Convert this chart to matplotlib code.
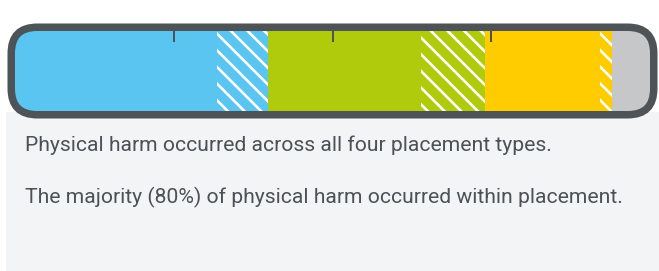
import matplotlib
matplotlib.use("Agg")
import matplotlib.pyplot as plt
from matplotlib.patches import FancyBboxPatch, Rectangle

# ---- data ----
placement_types = ["Type 1", "Type 2", "Type 3", "Type 4"]
within_pct = [31.8, 24.1, 18.1, 6.0]     # solid segments (within placement)
outside_pct = [8.0, 10.1, 1.9, 0.0]      # hatched segments
type_colors = ["#5bc5f2", "#b0cb0b", "#ffcc00", "#c6c7c9"]
tick_values = [25, 50, 75]
lines = [
    "Physical harm occurred across all four placement types.",
    "The majority (80%) of physical harm occurred within placement.",
]

W, H, DPI = 659, 271, 100


def pt(px):
    return px * 72.0 / DPI


plt.rcParams["hatch.linewidth"] = pt(2.6)
plt.rcParams["font.family"] = ["Roboto", "DejaVu Sans"]

fig = plt.figure(figsize=(W / DPI, H / DPI), dpi=DPI)
fig.patch.set_facecolor("white")

# light panel behind the text
fig.add_artist(Rectangle((6 / W, 0), 1 - 6 / W, (H - 112) / H,
                         transform=fig.transFigure, facecolor="#f3f4f6",
                         edgecolor="none", zorder=0))

# bar axes = inner area of the rounded bar
x0, x1, ytop, ybot = 15, 650, 31, 111
ax = fig.add_axes([x0 / W, 1 - ybot / H, (x1 - x0) / W, (ybot - ytop) / H])
ax.set_xlim(0, 100)
ax.set_ylim(0, 1)
ax.patch.set_visible(False)
for s in ax.spines.values():
    s.set_visible(False)

border_col = "#4d5356"
pad = 3.75
frame = FancyBboxPatch((x0 / DPI, (H - ybot) / DPI), (x1 - x0) / DPI, (ybot - ytop) / DPI,
                       boxstyle=f"round,pad={pad / DPI},rounding_size={26 / DPI}",
                       transform=fig.dpi_scale_trans, facecolor="none",
                       edgecolor=border_col, linewidth=pt(7.5), zorder=5, clip_on=False)

left = 0.0
bars = []
for w_in, w_out, c in zip(within_pct, outside_pct, type_colors):
    b = ax.barh(0.5, w_in, height=1.0, left=left, color=c, linewidth=0)
    bars.extend(b.patches)
    left += w_in
    if w_out > 0:
        b = ax.barh(0.5, w_out, height=1.0, left=left, color=c,
                    edgecolor="white", linewidth=0, hatch="\\\\")
        bars.extend(b.patches)
        left += w_out

ax.add_patch(frame)
for p in bars:
    p.set_clip_path(frame)

ax.xaxis.tick_top()
ax.set_xticks(tick_values)
ax.set_xticklabels([])
ax.set_yticks([])
ax.tick_params(axis="x", direction="in", length=pt(11), width=pt(2), color=border_col,
               top=True, bottom=False)

# text
fs = pt(21.2)
fig.text(25 / W, (H - 151) / H, lines[0], fontsize=fs, color="#4a5157", va="baseline")
fig.text(25 / W, (H - 203) / H, lines[1], fontsize=fs, color="#4a5157", va="baseline")

fig.savefig("out.png", dpi=DPI, facecolor="white")
